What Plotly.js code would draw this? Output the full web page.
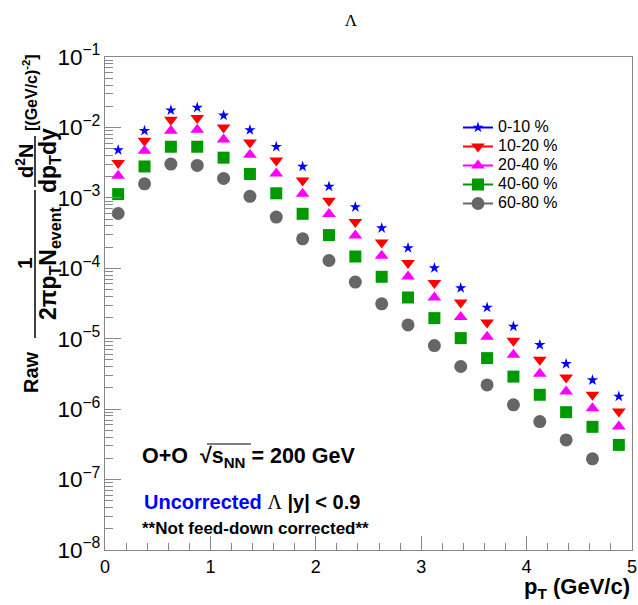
<!DOCTYPE html>
<html>
<head>
<meta charset="utf-8">
<script src="https://cdn.plot.ly/plotly-3.0.1.min.js"></script>
<style>html,body{margin:0;padding:0;background:#fff;}#chart{width:638px;height:605px;}</style>
</head>
<body>
<div id="chart"></div>
<script>
// ---- data ----
const pT = [0.125, 0.375, 0.625, 0.875, 1.125, 1.375, 1.625, 1.875, 2.125, 2.375,
            2.625, 2.875, 3.125, 3.375, 3.625, 3.875, 4.125, 4.375, 4.625, 4.875];
const cent0_10  = [4.77e-3, 8.97e-3, 1.75e-2, 1.92e-2, 1.48e-2, 9.18e-3, 5.32e-3, 2.79e-3, 1.45e-3, 7.40e-4,
                   3.72e-4, 1.94e-4, 1.01e-4, 5.24e-5, 2.77e-5, 1.49e-5, 8.18e-6, 4.40e-6, 2.58e-6, 1.51e-6];
const cent10_20 = [3.12e-3, 6.47e-3, 1.29e-2, 1.36e-2, 1.00e-2, 6.12e-3, 3.40e-3, 1.77e-3, 9.10e-4, 4.53e-4,
                   2.33e-4, 1.19e-4, 6.17e-5, 3.27e-5, 1.70e-5, 9.33e-6, 5.01e-6, 2.81e-6, 1.60e-6, 9.25e-7];
const cent20_40 = [2.06e-3, 4.67e-3, 8.97e-3, 9.27e-3, 6.76e-3, 4.09e-3, 2.22e-3, 1.14e-3, 5.89e-4, 2.92e-4,
                   1.51e-4, 7.65e-5, 3.85e-5, 2.03e-5, 1.07e-5, 5.90e-6, 3.17e-6, 1.78e-6, 1.03e-6, 5.66e-7];
const cent40_60 = [1.13e-3, 2.79e-3, 5.32e-3, 5.32e-3, 3.72e-3, 2.18e-3, 1.16e-3, 5.94e-4, 2.96e-4, 1.47e-4,
                   7.57e-5, 3.85e-5, 1.96e-5, 1.02e-5, 5.30e-6, 2.90e-6, 1.60e-6, 9.05e-7, 5.61e-7, 3.11e-7];
const cent60_80 = [6.00e-4, 1.58e-3, 3.02e-3, 2.89e-3, 1.89e-3, 1.05e-3, 5.33e-4, 2.62e-4, 1.29e-4, 6.37e-5,
                   3.13e-5, 1.57e-5, 8.00e-6, 4.03e-6, 2.21e-6, 1.15e-6, 6.67e-7, 3.66e-7, 1.97e-7, null];
const seriesNames = ['0-10 %', '10-20 %', '20-40 %', '40-60 %', '60-80 %'];
const seriesValues = [cent0_10, cent10_20, cent20_40, cent40_60, cent60_80];
const xTickVals = [0, 1, 2, 3, 4, 5];

// ---- styles ----
const colors  = ['#0000ff', '#ff0000', '#ff00ff', '#009900', '#666666'];
const symbols = ['star', 'triangle-down', 'triangle-up', 'square', 'circle'];
const sizes   = [8.5, 12, 12, 12, 13];

const SANS = '"Liberation Sans", Arial, Helvetica, sans-serif';
const SERIF = '"Liberation Serif", "Times New Roman", serif';

// Each point is kept isolated (null gap after it) so the trace draws markers only,
// while its legend entry shows the ROOT-style line + marker.
function isolate(xs, ys) {
  const X = [], Y = [];
  xs.forEach((x, k) => { X.push(x, null); Y.push(ys[k], null); });
  return {X, Y};
}

const traces = seriesValues.map((vals, i) => {
  const d = isolate(pT, vals);
  return {
    x: d.X, y: d.Y, type: 'scatter', mode: 'lines+markers',
    name: '<span style="font-size:16px">' + seriesNames[i] + '</span>',
    connectgaps: false, cliponaxis: false,
    line: {color: colors[i], width: 2},
    marker: {symbol: symbols[i], color: colors[i], size: sizes[i], line: {width: 0}}
  };
});

// pixel -> paper helpers for decorations (plot area 105..632 x 57..550)
const L = 105, R = 632, T = 57, B = 550;
const px = x => (x - L) / (R - L);
const py = y => (B - y) / (B - T);

const yt = (text, x, y, size) => ({
  text: text, xref: 'paper', yref: 'paper', x: px(x), y: py(y),
  xanchor: 'center', yanchor: 'middle', textangle: -90, showarrow: false,
  font: {family: SANS, size: size, color: '#000'}
});

const layout = {
  width: 638, height: 605,
  margin: {l: L, r: 638 - R, t: T, b: 605 - B, pad: 0},
  paper_bgcolor: '#fff', plot_bgcolor: '#fff',
  showlegend: true,
  title: {text: 'Λ', font: {family: SERIF, size: 17, color: '#000'},
          xref: 'paper', x: px(351), xanchor: 'center', yref: 'container', y: 1 - 20/605, yanchor: 'middle'},
  xaxis: {
    range: [0, 5], type: 'linear',
    tickvals: xTickVals, ticktext: xTickVals.map(String),
    ticks: 'inside', ticklen: 14, tickwidth: 1, tickcolor: '#888',
    minor: {dtick: 0.2, ticks: 'inside', ticklen: 7, tickcolor: '#888', showgrid: false},
    showline: true, linecolor: '#888', linewidth: 1, mirror: true,
    showgrid: false, zeroline: false,
    tickfont: {family: SANS, size: 18, color: '#000'}
  },
  yaxis: {
    type: 'log', range: [-8, -1], dtick: 1, exponentformat: 'power',
    ticks: 'inside', ticklen: 16, tickwidth: 1, tickcolor: '#888',
    minor: {dtick: 'D1', ticks: 'inside', ticklen: 8, tickcolor: '#888', showgrid: false},
    showline: true, linecolor: '#888', linewidth: 1, mirror: true,
    showgrid: false, zeroline: false,
    tickfont: {family: SANS, size: 18, color: '#000'}
  },
  legend: {
    x: px(458), y: py(113), xanchor: 'left', yanchor: 'top',
    bgcolor: 'rgba(0,0,0,0)', borderwidth: 0,
    font: {family: SANS, size: 12, color: '#000'},
    itemwidth: 30, tracegroupgap: 0
  },
  annotations: [
    // y-axis title built from pieces (ROOT #frac style)
    yt('<b>Raw</b>', 31, 372, 20),
    yt('<b>1</b>', 24, 263, 21),
    yt('<b>2πp<sub>T</sub>N<sub>event</sub></b>', 49, 263, 23),
    yt('<b>d<sup>2</sup>N</b>', 24, 161, 20),
    yt('<b>dp<sub>T</sub>dy</b>', 49, 161, 23),
    yt('<b>[(GeV/c)<sup>-2</sup>]</b>', 30, 93, 16),
    // x-axis title
    {text: '<b>p<sub>T</sub> (GeV/c)</b>', xref: 'paper', yref: 'paper', x: 1, y: py(588),
     xanchor: 'right', yanchor: 'middle', showarrow: false,
     font: {family: SANS, size: 22, color: '#000'}},
    // in-plot labels
    {text: '<b>O+O  √s<sub>NN</sub> = 200 GeV</b>', xref: 'paper', yref: 'paper', x: px(140), y: py(457),
     xanchor: 'left', yanchor: 'middle', showarrow: false,
     font: {family: SANS, size: 21.5, color: '#000'}},
    {text: '<b><span style="color:#0000ff">Uncorrected</span></b> <span style="font-family:' + "'Liberation Serif'" + '">Λ</span> <b>|y| &lt; 0.9</b>',
     xref: 'paper', yref: 'paper', x: px(142), y: py(502),
     xanchor: 'left', yanchor: 'middle', showarrow: false,
     font: {family: SANS, size: 20, color: '#000'}},
    {text: '<b>**Not feed-down corrected**</b>', xref: 'paper', yref: 'paper', x: px(140), y: py(528),
     xanchor: 'left', yanchor: 'middle', showarrow: false,
     font: {family: SANS, size: 17, color: '#000'}}
  ],
  shapes: [
    {type: 'line', xref: 'paper', yref: 'paper', x0: px(35), x1: px(35), y0: py(338), y1: py(190),
     line: {color: '#000', width: 1.5}},
    {type: 'line', xref: 'paper', yref: 'paper', x0: px(35), x1: px(35), y0: py(187), y1: py(136),
     line: {color: '#000', width: 1.5}},
    // overline of the square root
    {type: 'line', xref: 'paper', yref: 'paper', x0: px(207), x1: px(251), y0: py(444), y1: py(444),
     line: {color: '#000', width: 1.2}}
  ]
};

Plotly.newPlot('chart', traces, layout, {displayModeBar: false, staticPlot: true});
</script>
</body>
</html>
